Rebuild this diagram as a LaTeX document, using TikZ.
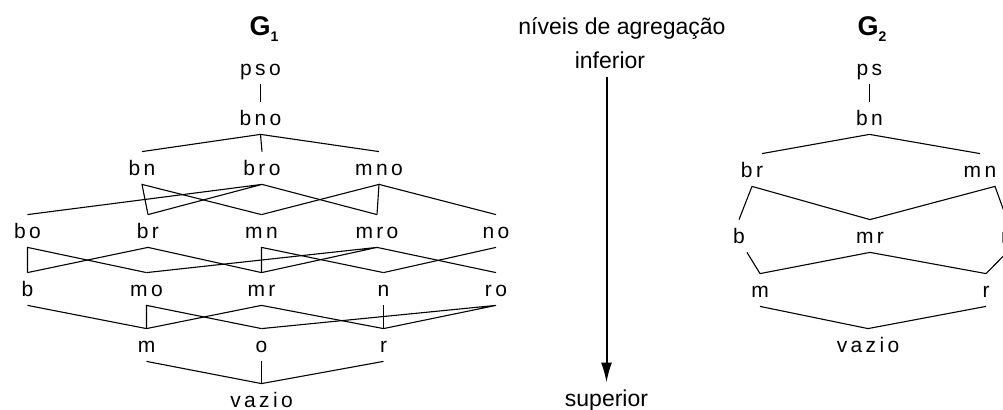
\documentclass[tikz,border=0pt]{standalone}
\usepackage{fontspec}
\setmainfont{Liberation Sans}
\newfontfamily\lblfont[LetterSpace=16]{Liberation Sans}
\newfontfamily\txtfont{Liberation Sans}
\usetikzlibrary{arrows.meta}
\newcommand{\grafo}[1]{G\raisebox{-3pt}{\fontsize{7}{7}\selectfont #1}}
\tikzset{
  elem/.style={inner sep=0pt, minimum height=16pt, text height=7.5pt, text depth=0pt,
    font=\lblfont\fontsize{10.5}{12}\selectfont},
  titulo/.style={inner sep=0pt, minimum height=16pt, text height=8pt, text depth=0pt,
    font=\txtfont\fontsize{11.5}{13}\selectfont},
  grafo/.style={inner sep=0pt, font=\bfseries\fontsize{13.5}{15}\selectfont},
  liga/.style={line width=0.55pt},
  seta/.style={line width=1pt, -{Latex[length=10pt,width=5.5pt]}}
}
\begin{document}
\begin{tikzpicture}[x=0.5pt,y=-0.5pt]
	\useasboundingbox (0,0) rectangle (1003,410);
	% G1
	\node[grafo] (G1) at (264,29) {\grafo{1}};
	\node[elem] (pso1) at (260.5,68) {pso};
	\node[elem] (bno1) at (260.5,118) {bno};
	\node[elem] (bn1) at (142,168) {bn};
	\node[elem] (bro1) at (262,168) {bro};
	\node[elem] (mno1) at (379,168) {mno};
	\node[elem] (bo1) at (27.5,231) {bo};
	\node[elem] (br1) at (148,231) {br};
	\node[elem] (mn1) at (261.5,231) {mn};
	\node[elem] (mro1) at (377,231) {mro};
	\node[elem] (no1) at (496,231) {no};
	\node[elem] (b1) at (27.5,289) {b};
	\node[elem] (mo1) at (146.5,289) {mo};
	\node[elem] (mr1) at (261.5,289) {mr};
	\node[elem] (n1) at (383.5,289) {n};
	\node[elem] (ro1) at (496,289) {ro};
	\node[elem] (m1) at (146.5,345) {m};
	\node[elem] (o1) at (261.5,345) {o};
	\node[elem] (r1) at (383.5,345) {r};
	\node[elem] (vazio1) at (261.5,400) {vazio};
	\draw[liga] (pso1.south) -- (bno1.north);
	\draw[liga] (bn1.north) -- (bno1.south) -- (mno1.north);
	\draw[liga] (bno1.south) -- (bro1.north);
	\draw[liga] (br1.north) -- (bn1.south) -- (mn1.north);
	\draw[liga] (bo1.north) -- (bro1.south) -- (br1.north);
	\draw[liga] (bro1.south) -- (mro1.north);
	\draw[liga] (mn1.north) -- (mno1.south) -- (mro1.north);
	\draw[liga] (mno1.south) -- (no1.north);
	\draw[liga] (b1.north) -- (bo1.south) -- (mo1.north);
	\draw[liga] (b1.north) -- (br1.south) -- (mr1.north);
	\draw[liga] (mr1.north) -- (mn1.south) -- (n1.north);
	\draw[liga] (mo1.north) -- (mro1.south) -- (mr1.north);
	\draw[liga] (mro1.south) -- (ro1.north);
	\draw[liga] (no1.south) -- (n1.north);
	\draw[liga] (b1.south) -- (m1.north);
	\draw[liga] (m1.north) -- (mo1.south) -- (o1.north);
	\draw[liga] (m1.north) -- (mr1.south) -- (r1.north);
	\draw[liga] (n1.south) -- (r1.north);
	\draw[liga] (o1.north) -- (ro1.south) -- (r1.north);
	\draw[liga] (m1.south) -- (vazio1.north) -- (r1.south);
	\draw[liga] (o1.south) -- (vazio1.north);
	% niveis
	\node[titulo] (niveis) at (622,27) {níveis de agregação};
	\node[titulo] (inferior) at (610,61) {inferior};
	\node[titulo] (superior) at (606.5,399) {superior};
	\draw[seta] (superior.north |- inferior.south) -- (superior.north);
	% G2
	\node[grafo] (G2) at (872,29) {\grafo{2}};
	\node[elem] (ps2) at (869.5,68) {ps};
	\node[elem] (bn2) at (869.5,118) {bn};
	\node[elem] (br2) at (752,170) {br};
	\node[elem] (mn2) at (980,170) {mn};
	\node[elem] (b2) at (739,236) {b};
	\node[elem] (mr2) at (870,236) {mr};
	\node[elem] (n2) at (1007,236) {n};
	\node[elem] (m2) at (760,290) {m};
	\node[elem] (r2) at (986,290) {r};
	\node[elem] (vazio2) at (868,345) {vazio};
	\draw[liga] (ps2.south) -- (bn2.north);
	\draw[liga] ([xshift=5pt]br2.north) -- (bn2.south) -- (mn2.north);
	\draw[liga] (b2.north) -- (br2.south) -- (mr2.north);
	\draw[liga] (mr2.north) -- ([xshift=7.5pt]mn2.south) -- (n2.north);
	\draw[liga] ([xshift=4pt]b2.south) -- (m2.north);
	\draw[liga] (m2.north) -- (mr2.south) -- (r2.north);
	\draw[liga] (n2.south) -- (r2.north);
	\draw[liga] (m2.south) -- (vazio2.north) -- (r2.south);
\end{tikzpicture}
\end{document}
